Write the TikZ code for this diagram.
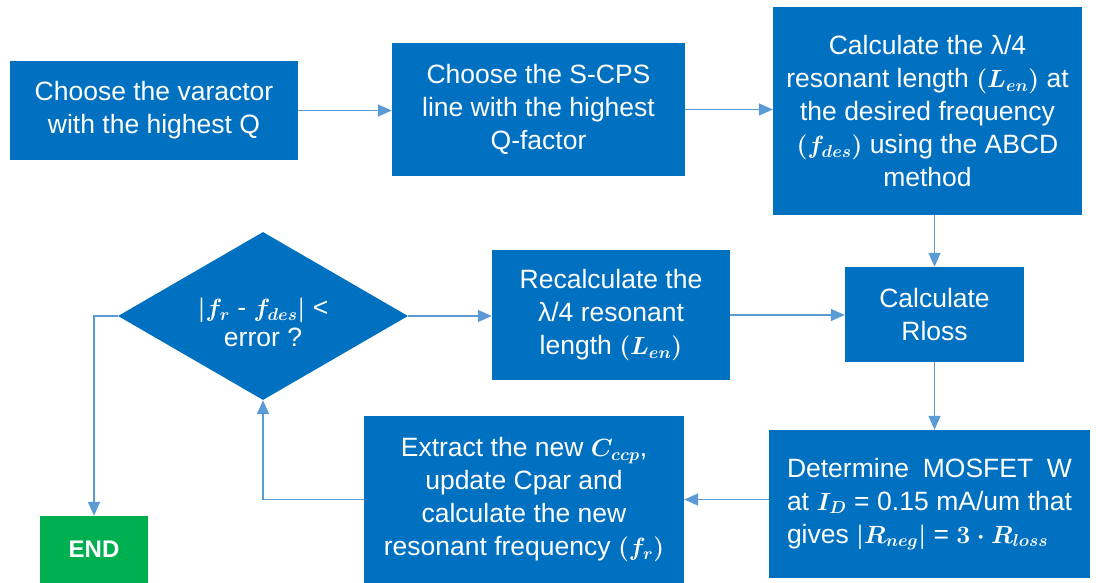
\documentclass[tikz,border=0pt]{standalone}
\usepackage{fontspec}
\setmainfont{Liberation Sans}
\usetikzlibrary{arrows.meta,shapes.geometric}
\definecolor{boxblue}{HTML}{0070C0}
\definecolor{arrowc}{HTML}{5B9BD5}
\definecolor{endgreen}{HTML}{00B050}
\tikzset{
  stepbox/.style={fill=boxblue, draw=none, text=white, inner sep=0pt, align=center,
    font=\fontsize{26.5}{33}\selectfont\boldmath},
  decision/.style={diamond, aspect=1.73, fill=boxblue, draw=none, text=white, inner sep=0pt,
    align=center, font=\fontsize{26.5}{30}\selectfont\boldmath},
  endbox/.style={fill=endgreen, draw=none, text=white, inner sep=0pt,
    font=\fontsize{24}{28}\selectfont\bfseries},
  arr/.style={draw=arrowc, line width=1.5pt, -{Triangle[length=14pt,width=12pt]}}
}
\begin{document}
\begin{tikzpicture}[x=1pt,y=-1pt]
\useasboundingbox (0,0) rectangle (1096,583);
\node[stepbox, minimum width=288pt, minimum height=99pt] (b1) at (154,110.5)
  {Choose the varactor\\with the highest Q};
\node[stepbox, minimum width=293pt, minimum height=133pt] (b2) at (538.5,109.5)
  {Choose the S-CPS\\line with the highest\\Q-factor};
\node[stepbox, minimum width=309pt, minimum height=208pt] (b3) at (927.5,111)
  {Calculate the λ/4\\resonant length $(L_{en})$ at\\the desired frequency\\$(f_{des})$ using the ABCD\\method};
\node[stepbox, minimum width=179pt, minimum height=95pt] (b4) at (934.5,314.5)
  {Calculate\\Rloss};
\node[stepbox, minimum width=321pt, minimum height=148pt, align=left] (b5) at (929.5,504)
  {\makebox[285pt][s]{Determine MOSFET W}\\
   \makebox[285pt][s]{at $I_D$ = 0.15 mA/um that}\\
   \makebox[285pt][l]{gives $|R_{neg}|$ = $3\cdot R_{loss}$}};
\node[stepbox, minimum width=320pt, minimum height=167pt] (b6) at (524,499.5)
  {Extract the new $C_{ccp}$,\\update Cpar and\\calculate the new\\resonant frequency $(f_r)$};
\node[stepbox, minimum width=238pt, minimum height=130pt] (b7) at (611,315)
  {Recalculate the\\λ/4 resonant\\length $(L_{en})$};
\node[decision, minimum width=290pt, minimum height=168pt] (dia) at (263,316)
  {\rule{0pt}{32pt}$|f_r$ - $f_{des}|$ <\\error ?};
\node[endbox, minimum width=108pt, minimum height=67pt] (end) at (94,549.5) {END};
\draw[arr] (b1.east) -- (b1.east -| b2.west);
\draw[arr] (b2.east) -- (b2.east -| b3.west);
\draw[arr] (b4.north |- b3.south) -- (b4.north);
\draw[arr] (b4.south) -- (b4.south |- b5.north);
\draw[arr] (b6.east -| b5.west) -- (b6.east);
\draw[arr] (b6.west) -| (dia.south);
\draw[arr] (dia.east) -- (dia.east -| b7.west);
\draw[arr] (b7.east) -- (b7.east -| b4.west);
\draw[arr] (dia.west) -| (end.north);
\end{tikzpicture}
\end{document}
